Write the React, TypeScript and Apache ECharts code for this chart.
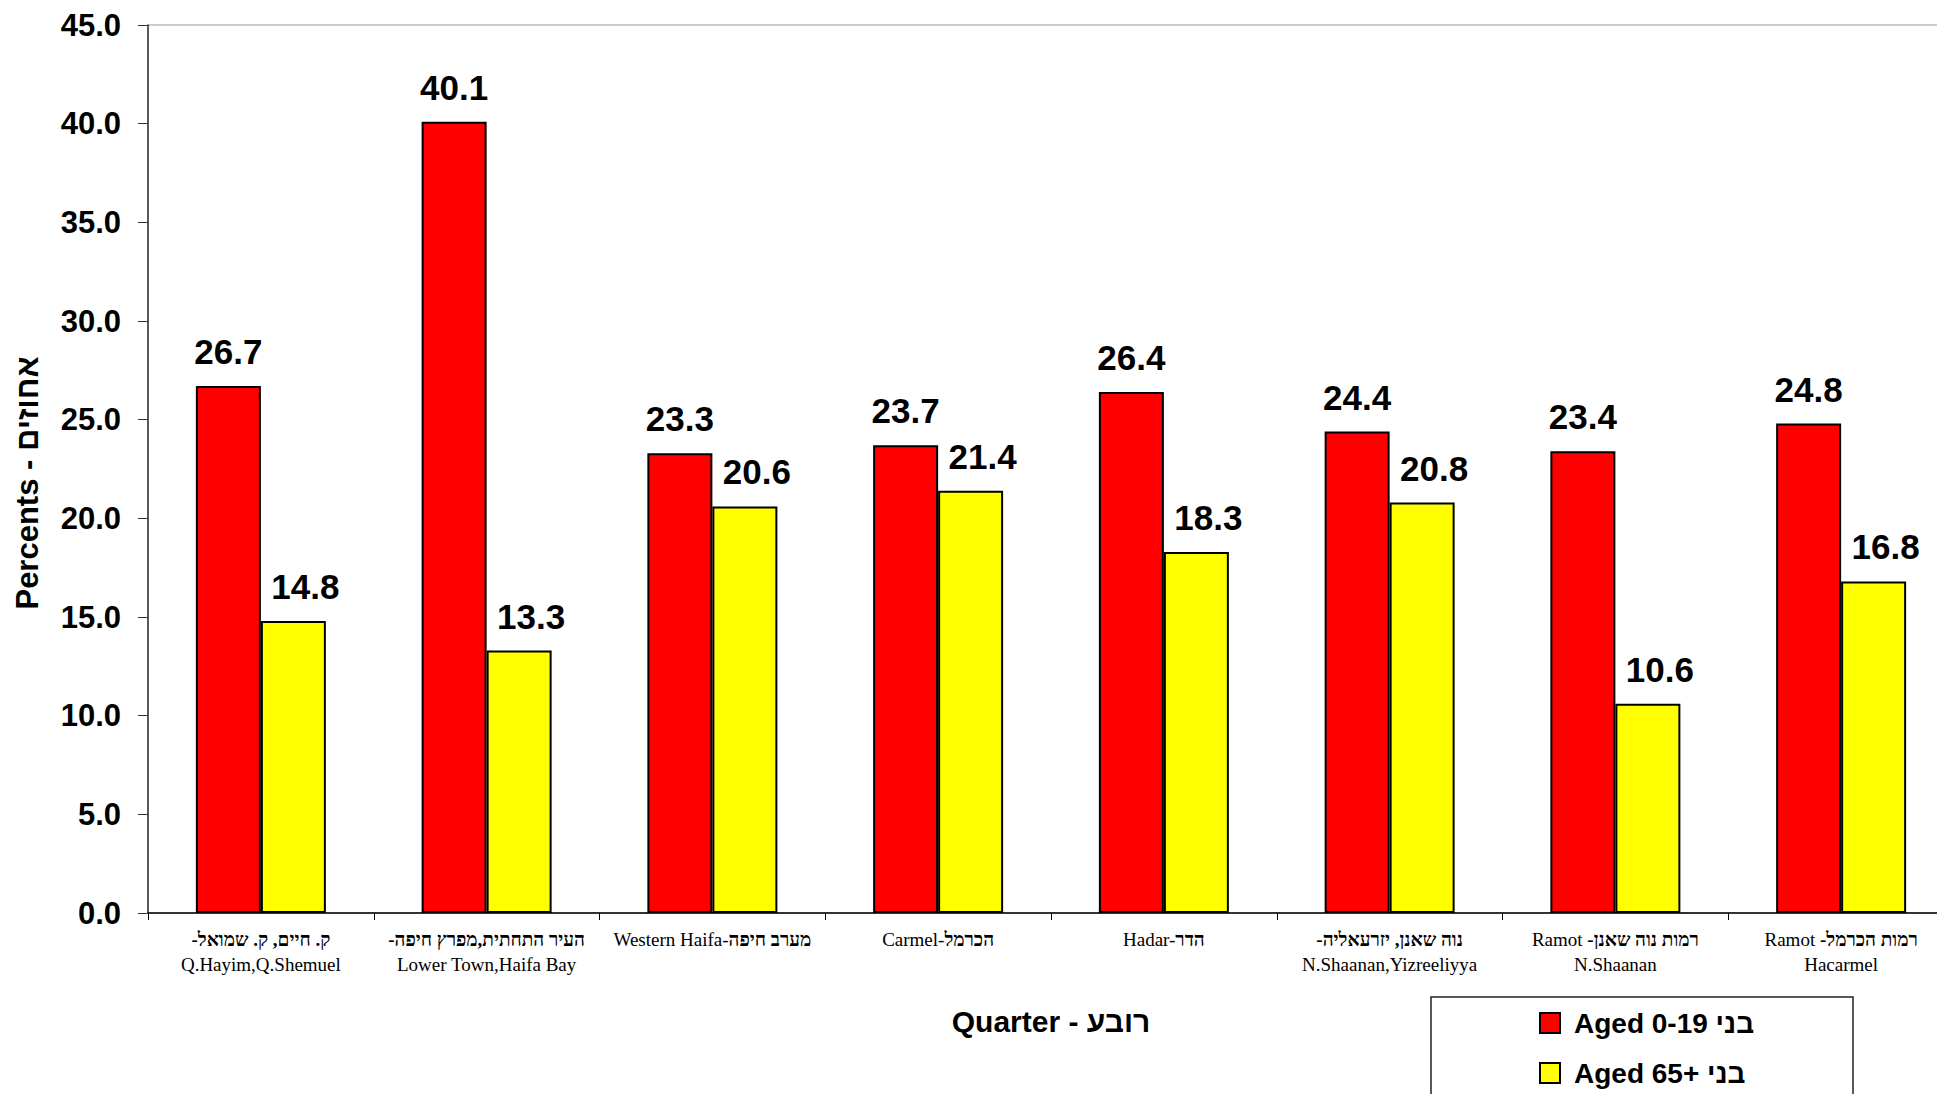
import React, { useEffect, useRef } from "react";
import * as echarts from "echarts";

const categoryKeys = ["c1", "c2", "c3", "c4", "c5", "c6", "c7", "c8"];
const categoryLabels = [
  "{b|-ק. חיים, ק. שמואל}\n{r|Q.Hayim,Q.Shemuel}",
  "{b|-העיר התחתית,מפרץ חיפה}\n{r|Lower Town,Haifa Bay}",
  "{r|Western Haifa-}{b|מערב חיפה}",
  "{r|Carmel-}{b|הכרמל}",
  "{r|Hadar-}{b|הדר}",
  "{b|-נוה שאנן, יזרעאליה}\n{r|N.Shaanan,Yizreeliyya}",
  "{r|Ramot }{b|-רמות נוה שאנן}\n{r|N.Shaanan}",
  "{r|Ramot }{b|-רמות הכרמל}\n{r|Hacarmel}",
];
const aged0to19 = [26.7, 40.1, 23.3, 23.7, 26.4, 24.4, 23.4, 24.8];
const aged65plus = [14.8, 13.3, 20.6, 21.4, 18.3, 20.8, 10.6, 16.8];
const seriesNames = ["Aged 0-19 בני", "Aged 65+ בני"];
const yAxisTitle = "Percents - אחוזים";
const xAxisTitle = "Quarter - רובע";

export default function App() {
  const ref = useRef<HTMLDivElement>(null);
  useEffect(() => {
    if (!ref.current) return;
    const chart = echarts.init(ref.current, undefined, { renderer: "svg" });
    const sans = "'Liberation Sans', Arial, sans-serif";
    const serif = "'Liberation Serif', 'Times New Roman', serif";
    const labelStyle = {
      show: true,
      position: "top" as const,
      distance: 17,
      fontSize: 35,
      fontWeight: "bold" as const,
      fontFamily: sans,
      color: "#000",
      formatter: (p: any) => Number(p.value).toFixed(1),
    };
    chart.setOption({
      animation: false,
      backgroundColor: "#fff",
      grid: {
        left: 148,
        top: 25,
        width: 1806,
        height: 888,
        show: true,
        borderColor: "#999",
        borderWidth: 1,
        containLabel: false,
        outerBoundsMode: "none",
      },
      graphic: [
        {
          type: "rect",
          z: 1,
          shape: { x: 1431, y: 997, width: 422, height: 140 },
          style: { fill: "#fff", stroke: "#222", lineWidth: 1.5 },
        },
        {
          type: "text",
          z: 5,
          x: 27,
          y: 483,
          rotation: Math.PI / 2,
          style: {
            text: yAxisTitle,
            fontSize: 31,
            fontWeight: "bold",
            fontFamily: sans,
            fill: "#000",
            align: "center",
            verticalAlign: "middle",
          },
        },
      ],
      legend: {
        orient: "vertical",
        left: 1539,
        top: 1009,
        padding: 0,
        itemGap: 22,
        itemWidth: 20,
        itemHeight: 20,
        icon: "rect",
        z: 5,
        data: seriesNames,
        textStyle: {
          fontSize: 28,
          fontWeight: "bold",
          fontFamily: sans,
          color: "#000",
          padding: [0, 0, 0, 9],
        },
      },
      xAxis: {
        type: "category",
        data: categoryKeys,
        name: xAxisTitle,
        nameLocation: "middle",
        nameGap: 93,
        nameTextStyle: {
          fontSize: 30,
          fontWeight: "bold",
          fontFamily: sans,
          color: "#000",
        },
        axisLine: { lineStyle: { color: "#000", width: 1.5 } },
        axisTick: { show: true, length: 7, lineStyle: { color: "#000" } },
        axisLabel: {
          interval: 0,
          margin: 14,
          lineHeight: 25,
          formatter: (_v: string, i: number) => categoryLabels[i],
          rich: {
            r: {
              fontSize: 19,
              fontFamily: serif,
              color: "#000",
              lineHeight: 25,
            },
            b: {
              fontSize: 19,
              fontFamily: serif,
              fontWeight: "bold",
              color: "#000",
              lineHeight: 25,
            },
          },
        },
      },
      yAxis: {
        type: "value",
        min: 0,
        max: 45,
        interval: 5,
        axisLine: { show: true, lineStyle: { color: "#333", width: 1.5 } },
        axisTick: { show: true, inside: false, length: 10, lineStyle: { color: "#333" } },
        splitLine: { show: false },
        axisLabel: {
          margin: 27,
          fontSize: 31,
          fontWeight: "bold",
          fontFamily: sans,
          color: "#000",
          formatter: (v: number) => v.toFixed(1),
        },
      },
      series: [
        {
          name: seriesNames[0],
          type: "bar",
          data: aged0to19,
          barWidth: 65,
          barGap: "0%",
          itemStyle: { color: "#FF0000", borderColor: "#000", borderWidth: 2 },
          label: labelStyle,
        },
        {
          name: seriesNames[1],
          type: "bar",
          data: aged65plus,
          barWidth: 65,
          barGap: "0%",
          itemStyle: { color: "#FFFF00", borderColor: "#000", borderWidth: 2 },
          label: { ...labelStyle, offset: [12, 0] },
        },
      ],
    });
    return () => chart.dispose();
  }, []);
  return (
    <div
      ref={ref}
      style={{ position: "fixed", left: 0, top: 0, width: 1937, height: 1094 }}
    />
  );
}
